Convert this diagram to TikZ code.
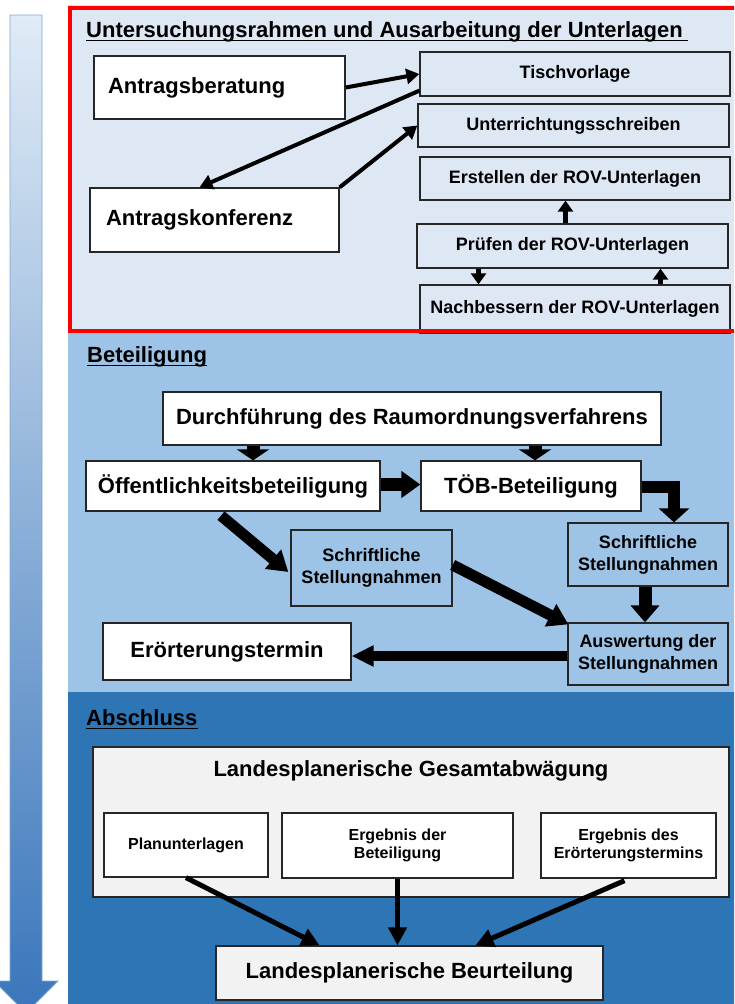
\documentclass[tikz,border=0pt]{standalone}
\usepackage{fontspec}
\setmainfont{Liberation Sans}
\usetikzlibrary{arrows.meta}
\definecolor{topbg}{HTML}{DDE8F4}
\definecolor{midbg}{HTML}{9DC3E6}
\definecolor{botbg}{HTML}{2E75B6}
\definecolor{grayfill}{HTML}{F2F2F2}
\definecolor{boxline}{HTML}{262626}
\definecolor{redline}{HTML}{FF0000}
\definecolor{arrtop}{HTML}{E0EBF6}
\definecolor{arrbot}{HTML}{3A76BB}
\definecolor{arredge}{HTML}{7FA7D4}
\newcommand{\fbig}{\bfseries\fontsize{22}{26}\selectfont}
\newcommand{\fmid}{\bfseries\fontsize{18}{22}\selectfont}
\newcommand{\fsmall}{\bfseries\fontsize{16}{18.5}\selectfont}
\tikzset{
  box/.style={draw=boxline, line width=1.3pt, inner sep=0pt, align=center},
  heading/.style={anchor=base west, inner sep=0pt, font=\fbig},
  uline/.style={line width=1.8pt},
  toparr/.style={line width=4pt, -{Triangle[length=13pt,width=15pt]}},
  smallarr/.style={line width=5pt, -{Triangle[length=11pt,width=15pt]}},
  droparr/.style={line width=13pt, -{Triangle[length=11pt,width=32pt]}},
  sidearr/.style={line width=13pt, -{Triangle[length=19pt,width=26pt]}},
  elbowarr/.style={line width=12pt, line join=miter, -{Triangle[length=14pt,width=30pt]}},
  diagarr/.style={line width=11pt, -{Triangle[length=20pt,width=24pt]}},
  downarr/.style={line width=13pt, -{Triangle[length=17pt,width=28pt]}},
  backarr/.style={line width=10pt, -{Triangle[length=22pt,width=20pt]}},
  botarr/.style={line width=5pt, -{Triangle[length=18pt,width=18pt]}},
}
\begin{document}
\begin{tikzpicture}[x=1pt,y=-1pt]
\useasboundingbox (0,0) rectangle (734,1004);
\begin{scope}
\clip (0,0) rectangle (734,1004);
% big timeline arrow
\shade[top color=arrtop, bottom color=arrbot, draw=arredge, line width=0.8pt]
  (10,15) -- (42,15) -- (42,981) -- (58,981) -- (26,1013) -- (-6,981) -- (10,981) -- cycle;
% section backgrounds
\fill[topbg] (68,5) rectangle (740,333);
\fill[midbg] (68,333) rectangle (740,692);
\fill[botbg] (68,692) rectangle (740,1004);

% ---------- top section ----------
\node[heading] (t1) at (86,37) {Untersuchungsrahmen und Ausarbeitung der Unterlagen};
\draw[uline] ([yshift=-3.5pt]t1.base west) -- ([yshift=-3.5pt,xshift=5pt]t1.base east);

\node[box, fill=white, minimum width=251pt, minimum height=63pt, inner xsep=14pt, text width=223pt, align=left, font=\fbig] (ab) at (219.5,87.5) {Antragsberatung};
\node[box, fill=white, minimum width=249pt, minimum height=64pt, inner xsep=16pt, text width=217pt, align=left, font=\fbig] (ak) at (214.5,220) {Antragskonferenz};
\node[box, fill=topbg, minimum width=310pt, minimum height=44pt, font=\fmid] (tisch) at (575,74) {Tischvorlage};
\node[box, fill=topbg, minimum width=311pt, minimum height=43pt, font=\fmid] (unt) at (573.5,125.5) {Unterrichtungsschreiben};
\node[box, fill=topbg, minimum width=310pt, minimum height=43pt, font=\fmid] (erst) at (575,178.5) {Erstellen der ROV-Unterlagen};
\node[box, fill=topbg, minimum width=311pt, minimum height=44pt, font=\fmid] (pruef) at (572.5,246) {Prüfen der ROV-Unterlagen};
\node[box, fill=topbg, minimum width=310pt, minimum height=48pt, font=\fmid] (nach) at (575,309) {Nachbessern der ROV-Unterlagen};

\draw[toparr] (ab.east) -- (tisch.west);
\draw[toparr] ([yshift=6pt]tisch.south west) -- ([xshift=-15pt]ak.north);
\draw[toparr] (ak.north east) -- (unt.west);
\draw[smallarr] ([xshift=-7pt]pruef.north) -- ([xshift=-7pt]pruef.north |- erst.south);
\draw[smallarr] ([xshift=-94pt]pruef.south) -- ([xshift=-94pt]pruef.south |- nach.north);
\draw[smallarr] ([xshift=88pt]pruef.south |- nach.north) -- ([xshift=88pt]pruef.south);

\draw[redline, line width=4pt] (69.5,7.5) rectangle (745,330.5);

% ---------- middle section ----------
\node[heading] (t2) at (87,362) {Beteiligung};
\draw[uline] ([yshift=-3.5pt]t2.base west) -- ([yshift=-3.5pt]t2.base east);

\node[box, fill=white, minimum width=498pt, minimum height=53pt, font=\fbig] (durch) at (412,418.5) {Durchführung des Raumordnungsverfahrens};
\node[box, fill=white, minimum width=294pt, minimum height=50pt, font=\fbig] (oeff) at (233,486) {Öffentlichkeitsbeteiligung};
\node[box, fill=white, minimum width=220pt, minimum height=50pt, font=\fbig] (toeb) at (531,486) {TÖB-Beteiligung};
\node[box, fill=midbg, minimum width=161pt, minimum height=76pt, font=\fmid] (s1) at (371.5,568) {Schriftliche\\Stellungnahmen};
\node[box, fill=midbg, minimum width=160pt, minimum height=63pt, font=\fmid] (s2) at (648,554.5) {Schriftliche\\Stellungnahmen};
\node[box, fill=midbg, minimum width=160pt, minimum height=62pt, font=\fmid] (ausw) at (648,654) {Auswertung der\\Stellungnahmen};
\node[box, fill=white, minimum width=248pt, minimum height=57pt, font=\fbig] (eroe) at (227,651.5) {Erörterungstermin};

\draw[droparr] ([xshift=20pt]oeff.north |- durch.south) -- ([xshift=20pt]oeff.north);
\draw[droparr] ([xshift=4pt]toeb.north |- durch.south) -- ([xshift=4pt]toeb.north);
\draw[sidearr] ([yshift=1.5pt]oeff.east) -- ([yshift=1.5pt]toeb.west);
\draw[elbowarr] ([yshift=-1pt]toeb.east) -| ([xshift=26pt]s2.north);
\draw[diagarr] ([xshift=-12pt,yshift=-4pt]oeff.south) -- ([xshift=-2pt,yshift=-4pt]s1.west);
\draw[diagarr] ([yshift=3pt]s1.east) -- ([xshift=1pt,yshift=-2pt]ausw.north west);
\draw[downarr] ([xshift=-3pt]s2.south) -- ([xshift=-3pt]ausw.north);
\draw[backarr] ([yshift=-2pt]ausw.west) -- ([yshift=-2pt]eroe.east |- ausw.west);

% ---------- bottom section ----------
\node[heading] (t3) at (86,725) {Abschluss};
\draw[uline] ([yshift=-3.5pt]t3.base west) -- ([yshift=-3.5pt]t3.base east);

\node[box, fill=grayfill, minimum width=636pt, minimum height=150pt,
  label={[anchor=base, inner sep=0pt, yshift=-30pt, font=\fbig]north:Landesplanerische Gesamtabwägung}] (ges) at (411,822) {};
\node[box, fill=white, minimum width=164pt, minimum height=64pt, font=\fsmall] (plan) at (186,845) {Planunterlagen};
\node[box, fill=white, minimum width=231pt, minimum height=65pt, font=\fsmall] (erg1) at (397.5,845.5) {Ergebnis der\\Beteiligung};
\node[box, fill=white, minimum width=175pt, minimum height=65pt, font=\fsmall] (erg2) at (628.5,845.5) {Ergebnis des\\Erörterungstermins};
\node[box, fill=grayfill, minimum width=387pt, minimum height=54pt, font=\fbig] (beurt) at (409.5,973) {Landesplanerische Beurteilung};

\draw[botarr] (plan.south) -- ([xshift=-90pt]beurt.north);
\draw[botarr] (erg1.south) -- (erg1.south |- beurt.north);
\draw[botarr] ([xshift=-4pt,yshift=-2pt]erg2.south) -- ([xshift=66pt]beurt.north);
\end{scope}
\end{tikzpicture}
\end{document}
